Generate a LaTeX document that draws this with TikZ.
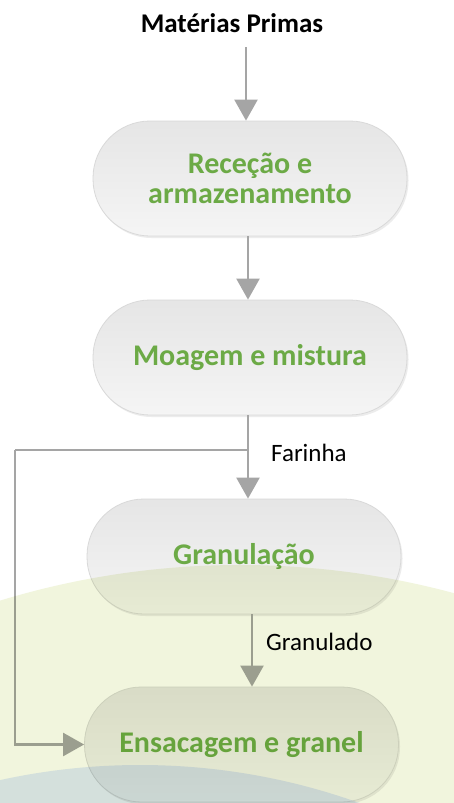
\documentclass[tikz,border=0pt]{standalone}
\usepackage{fontspec}
\setmainfont{Carlito}
\usepackage{xcolor}
\usetikzlibrary{arrows.meta,shadows}

\definecolor{stepgreen}{RGB}{108,170,70}
\definecolor{flowgray}{RGB}{165,165,165}
\definecolor{bggreen}{RGB}{241,245,221}
\definecolor{bgblue}{RGB}{225,234,254}

\begin{document}
\begin{tikzpicture}[x=1pt,y=-1pt,
    procbox/.style={rectangle,rounded corners=57pt,minimum width=314pt,minimum height=115pt,
      top color=black!10,bottom color=black!4,draw=black!15,line width=0.8pt,
      drop shadow={opacity=0.15,shadow xshift=1.5pt,shadow yshift=-2pt},
      text=stepgreen,font=\fontsize{30}{30}\selectfont\bfseries,align=center},
    headlbl/.style={font=\fontsize{27}{27}\selectfont\bfseries,inner sep=0pt},
    flowlbl/.style={font=\fontsize{25}{25}\selectfont,anchor=west,inner sep=0pt},
    flow/.style={draw=flowgray,line width=2.4pt,-{Triangle[width=23pt,length=21pt]}},
    link/.style={draw=flowgray,line width=2.4pt}]

    \fill[white] (0,0) rectangle (454,803);
    \useasboundingbox (0,0) rectangle (454,803);

    \node[headlbl] (raw) at (232,23) {Matérias Primas};

    \node[procbox] (rec) at (250,178.5) {Receção e\\armazenamento};
    \node[procbox] (moa) at (250,357.5) {Moagem e mistura};
    \node[procbox] (gra) at (244,556.5) {Granulação};
    \node[procbox] (ens) at (241.5,744.5) {Ensacagem e granel};

    \coordinate (in) at (246,47);
    \coordinate (split) at (248,450);
    \coordinate (corner) at (15,450);

    \draw[flow] (in) -- (in |- rec.north);
    \draw[flow] ([xshift=-2pt]rec.south) -- ([xshift=-2pt]moa.north);
    \draw[flow] ([xshift=-2pt]moa.south) -- ([xshift=4pt]gra.north);
    \draw[flow] ([xshift=8pt]gra.south) -- ([xshift=10.5pt]ens.north);
    \draw[link] (split) -- (corner);
    \draw[flow] (corner) |- (ens.west);

    \node[flowlbl] (flour) at (271,453) {Farinha};
    \node[flowlbl] (pellet) at (266,642) {Granulado};

    % background arcs laid over the flow
    \begin{scope}[blend mode=multiply]
        \clip (0,0) rectangle (454,803);
        \fill[bggreen] (240,1386) circle (821);
        \fill[bgblue] (140,1415) circle (650);
    \end{scope}
\end{tikzpicture}
\end{document}
